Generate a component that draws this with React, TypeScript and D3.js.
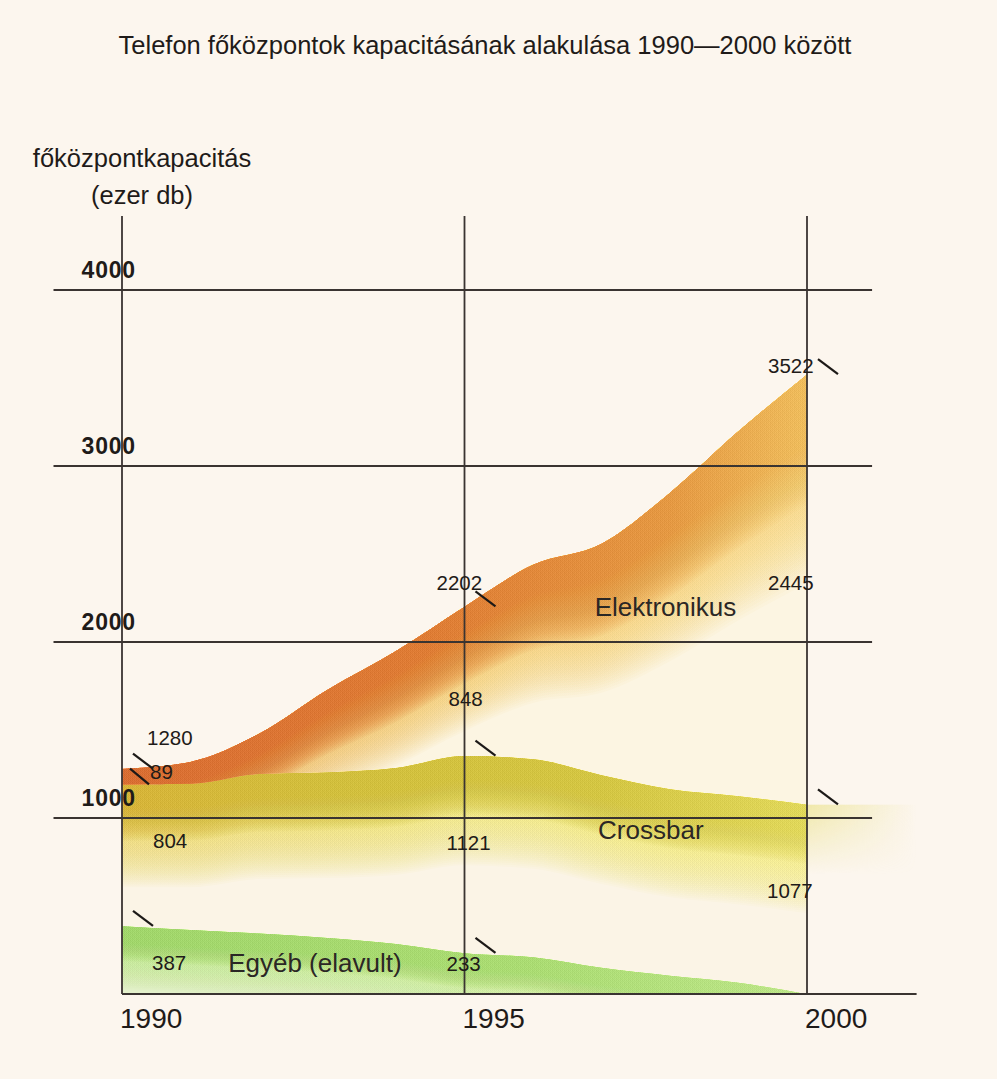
import React, { useEffect, useRef } from 'react';
import * as d3 from 'd3';

// years on the x axis
const years = [1990, 1991, 1992, 1993, 1994, 1995, 1996, 1997, 1998, 1999, 2000];

// capacity per exchange type (thousand lines)
const egyeb = [387, 365, 345, 320, 285, 233, 210, 150, 105, 65, 0];
const crossbar = [804, 830, 905, 940, 1000, 1121, 1125, 1095, 1060, 1060, 1077];
const elektronikus = [89, 125, 230, 470, 665, 848, 1105, 1315, 1685, 2075, 2445];

const yTicks = [1000, 2000, 3000, 4000];
const xTicks = [1990, 1995, 2000];

const seriesKeys = ['egyeb', 'crossbar', 'elektronikus'];

// series names written inside the bands (position in data units)
const seriesLabels = [
    { text: 'Egyéb (elavult)', year: 1991.55, value: 125 },
    { text: 'Crossbar', year: 1996.95, value: 880 },
    { text: 'Elektronikus', year: 1996.9, value: 2150 },
];

// printed values, anchored to a stack boundary of a year
const valueLabels = [
    { text: '1280', year: 1990, at: 1280, dx: 25, dy: -24 },
    { text: '89', year: 1990, at: 1280, dx: 28, dy: 10 },
    { text: '804', year: 1990, at: 1191, dx: 31, dy: 64 },
    { text: '387', year: 1990, at: 387, dx: 30, dy: 44 },
    { text: '2202', year: 1995, at: 2202, dx: -28, dy: -16 },
    { text: '848', year: 1995, at: 1354, dx: -16, dy: -50 },
    { text: '1121', year: 1995, at: 1354, dx: -18, dy: 94 },
    { text: '233', year: 1995, at: 233, dx: -18, dy: 18 },
    { text: '3522', year: 2000, at: 3522, dx: -39, dy: -1 },
    { text: '2445', year: 2000, at: 1077, dx: -39, dy: -214 },
    { text: '1077', year: 2000, at: 1077, dx: -40, dy: 94 },
];

// little "\" pointer marks
const slashMarks = [
    { year: 1990, at: 1280 },
    { year: 1990, from: 1280, to: 1191 },
    { year: 1990, at: 387 },
    { year: 1995, at: 2202 },
    { year: 1995, at: 1354 },
    { year: 1995, at: 233 },
    { year: 2000, at: 3522 },
    { year: 2000, at: 1077 },
];

const App = () => {
    const svgRef = useRef<SVGSVGElement>(null);

    useEffect(() => {
        const svg = d3.select(svgRef.current);
        svg.selectAll('*').remove();

        const width = 997;
        const height = 1079;
        const font = '"Liberation Sans", Arial, Helvetica, sans-serif';
        const ink = '#1f1b19';

        svg.attr('width', width).attr('height', height);

        // paper
        svg.append('rect').attr('width', width).attr('height', height).attr('fill', '#fcf6ee');

        const x = d3.scaleLinear().domain([1990, 2000]).range([122, 807]);
        const y = d3.scaleLinear().domain([0, 4000]).range([994, 290]);

        const table = years.map((yr, i) => ({
            year: yr,
            egyeb: egyeb[i],
            crossbar: crossbar[i],
            elektronikus: elektronikus[i],
        }));
        const stacked = d3.stack<any>().keys(seriesKeys)(table);

        const defs = svg.append('defs');

        // each band: pale base, a light tone fading deep, a strong tone fading shallow
        const looks = [
            {
                key: 'egyeb', base: '#e4f1cc', depth0: 64, depthK: 0,
                tones: [
                    { scale: 1, stops: [[0, '#bfe08e'], [1, '#cfe7a0']] },
                    { scale: 0.55, stops: [[0, '#98cd62'], [0.6, '#a2d36a'], [1, '#b4dc80']] },
                ],
            },
            {
                key: 'crossbar', base: '#fbf4e6', depth0: 86, depthK: 0.12,
                tones: [
                    { scale: 1, stops: [[0, '#e6d468'], [0.5, '#e8df72'], [1, '#ece47e']] },
                    { scale: 0.55, stops: [[0, '#ceab30'], [0.3, '#c9b634'], [0.7, '#cbbd3a'], [1, '#d8cf52']] },
                ],
            },
            {
                key: 'elektronikus', base: '#fcf5e2', depth0: 80, depthK: 0.3,
                tones: [
                    { scale: 1, stops: [[0, '#e4a650'], [0.5, '#ecc462'], [1, '#f0d070']] },
                    { scale: 0.62, stops: [[0, '#d0652a'], [0.45, '#d6742c'], [0.8, '#dc903a'], [1, '#e6b454']] },
                ],
            },
        ];

        const layersG = svg.append('g');

        stacked.forEach((layer, li) => {
            const look = looks[li];
            const area = d3.area<any>()
                .x(d => x(d.data.year))
                .y0(d => y(d[0]))
                .y1(d => y(d[1]))
                .curve(d3.curveMonotoneX);

            const clipId = `clip-${look.key}`;
            defs.append('clipPath').attr('id', clipId)
                .append('path').attr('d', area(layer));

            const g = layersG.append('g').attr('clip-path', `url(#${clipId})`);
            g.append('path').attr('d', area(layer)).attr('fill', look.base);

            const depthOf = (d: any) => look.depth0 + look.depthK * (y(d[0]) - y(d[1]));

            look.tones.forEach((tone, ti) => {
                const gradId = `h-${look.key}-${ti}`;
                const grad = defs.append('linearGradient')
                    .attr('id', gradId)
                    .attr('gradientUnits', 'userSpaceOnUse')
                    .attr('x1', x(1990)).attr('x2', x(2000))
                    .attr('y1', 0).attr('y2', 0);
                tone.stops.forEach(([o, c]) => grad.append('stop').attr('offset', o).attr('stop-color', c));

                // many thin translucent bands under the top edge -> smooth fade following the curve
                const steps = 56;
                for (let k = 1; k <= steps; k++) {
                    const band = d3.area<any>()
                        .x(d => x(d.data.year))
                        .y0(d => y(d[1]) + (depthOf(d) * tone.scale * k) / steps)
                        .y1(d => y(d[1]))
                        .curve(d3.curveMonotoneX);
                    g.append('path')
                        .attr('d', band(layer))
                        .attr('fill', `url(#${gradId})`)
                        .attr('opacity', 0.055);
                }
            });
        });

        // soft yellow glow of the crossbar band running out past 2000
        const lastCross = crossbar[crossbar.length - 1];
        const glow = defs.append('linearGradient')
            .attr('id', 'glow')
            .attr('gradientUnits', 'userSpaceOnUse')
            .attr('x1', x(2000)).attr('x2', x(2001.6))
            .attr('y1', 0).attr('y2', 0);
        glow.append('stop').attr('offset', 0).attr('stop-color', '#e8df7c').attr('stop-opacity', 0.6);
        glow.append('stop').attr('offset', 1).attr('stop-color', '#e8df7c').attr('stop-opacity', 0);
        const glowFade = defs.append('linearGradient')
            .attr('id', 'glowFade')
            .attr('gradientUnits', 'userSpaceOnUse')
            .attr('x1', 0).attr('x2', 0)
            .attr('y1', y(lastCross)).attr('y2', y(680));
        glowFade.append('stop').attr('offset', 0).attr('stop-color', 'white');
        glowFade.append('stop').attr('offset', 1).attr('stop-color', 'black');
        defs.append('mask').attr('id', 'glowMask')
            .append('rect')
            .attr('x', x(2000)).attr('width', x(2001.6) - x(2000))
            .attr('y', y(lastCross)).attr('height', y(680) - y(lastCross))
            .attr('fill', 'url(#glowFade)');
        svg.append('rect')
            .attr('x', x(2000))
            .attr('width', x(2001.6) - x(2000))
            .attr('y', y(lastCross))
            .attr('height', y(680) - y(lastCross))
            .attr('fill', 'url(#glow)')
            .attr('mask', 'url(#glowMask)');

        // grid
        const grid = svg.append('g')
            .attr('stroke', '#3a3431')
            .attr('stroke-width', 1.8);

        grid.selectAll('.hline')
            .data(yTicks)
            .enter()
            .append('line')
            .attr('x1', x(1989))
            .attr('x2', x(2000.95))
            .attr('y1', d => y(d))
            .attr('y2', d => y(d));

        grid.append('line')
            .attr('x1', x(1990))
            .attr('x2', x(2001.6))
            .attr('y1', y(0))
            .attr('y2', y(0));

        grid.selectAll('.vline')
            .data(xTicks)
            .enter()
            .append('line')
            .attr('x1', d => x(d))
            .attr('x2', d => x(d))
            .attr('y1', y(4420))
            .attr('y2', y(0));

        // pointer marks
        svg.append('g')
            .attr('stroke', '#1c1917')
            .attr('stroke-width', 2.2)
            .selectAll('line')
            .data(slashMarks)
            .enter()
            .append('line')
            .attr('x1', d => x(d.year) + (d.at !== undefined ? 11 : 8))
            .attr('y1', d => (d.at !== undefined ? y(d.at) - 15 : y(d.from)))
            .attr('x2', d => x(d.year) + (d.at !== undefined ? 31 : 27))
            .attr('y2', d => (d.at !== undefined ? y(d.at) : y(d.to)));

        const text = svg.append('g').attr('font-family', font).attr('fill', ink);

        // title
        text.append('text')
            .attr('x', 485)
            .attr('y', 54)
            .attr('text-anchor', 'middle')
            .attr('font-size', 25.5)
            .text('Telefon főközpontok kapacitásának alakulása 1990—2000 között');

        // y axis title
        text.append('text')
            .attr('x', 142)
            .attr('y', 167)
            .attr('text-anchor', 'middle')
            .attr('font-size', 25.5)
            .text('főközpontkapacitás');
        text.append('text')
            .attr('x', 142)
            .attr('y', 204)
            .attr('text-anchor', 'middle')
            .attr('font-size', 25.5)
            .text('(ezer db)');

        // y tick labels
        text.selectAll('.ytick')
            .data(yTicks)
            .enter()
            .append('text')
            .attr('x', x(1989.41))
            .attr('y', d => y(d) - 12)
            .attr('font-size', 23)
            .attr('font-weight', 'bold')
            .attr('letter-spacing', 0.8)
            .text(d => d);

        // x tick labels
        text.selectAll('.xtick')
            .data(xTicks)
            .enter()
            .append('text')
            .attr('x', d => x(d) - 2)
            .attr('y', y(0) + 34)
            .attr('font-size', 28)
            .text(d => d);

        // values
        text.selectAll('.val')
            .data(valueLabels)
            .enter()
            .append('text')
            .attr('x', d => x(d.year) + d.dx)
            .attr('y', d => y(d.at) + d.dy)
            .attr('font-size', 20.5)
            .text(d => d.text);

        // series names
        text.selectAll('.series')
            .data(seriesLabels)
            .enter()
            .append('text')
            .attr('x', d => x(d.year))
            .attr('y', d => y(d.value))
            .attr('font-size', 26)
            .attr('fill', '#2b2725')
            .text(d => d.text);
    }, []);

    return (
        <svg ref={svgRef} style={{ position: 'absolute', left: 0, top: 0, display: 'block' }}></svg>
    );
};

export default App;
